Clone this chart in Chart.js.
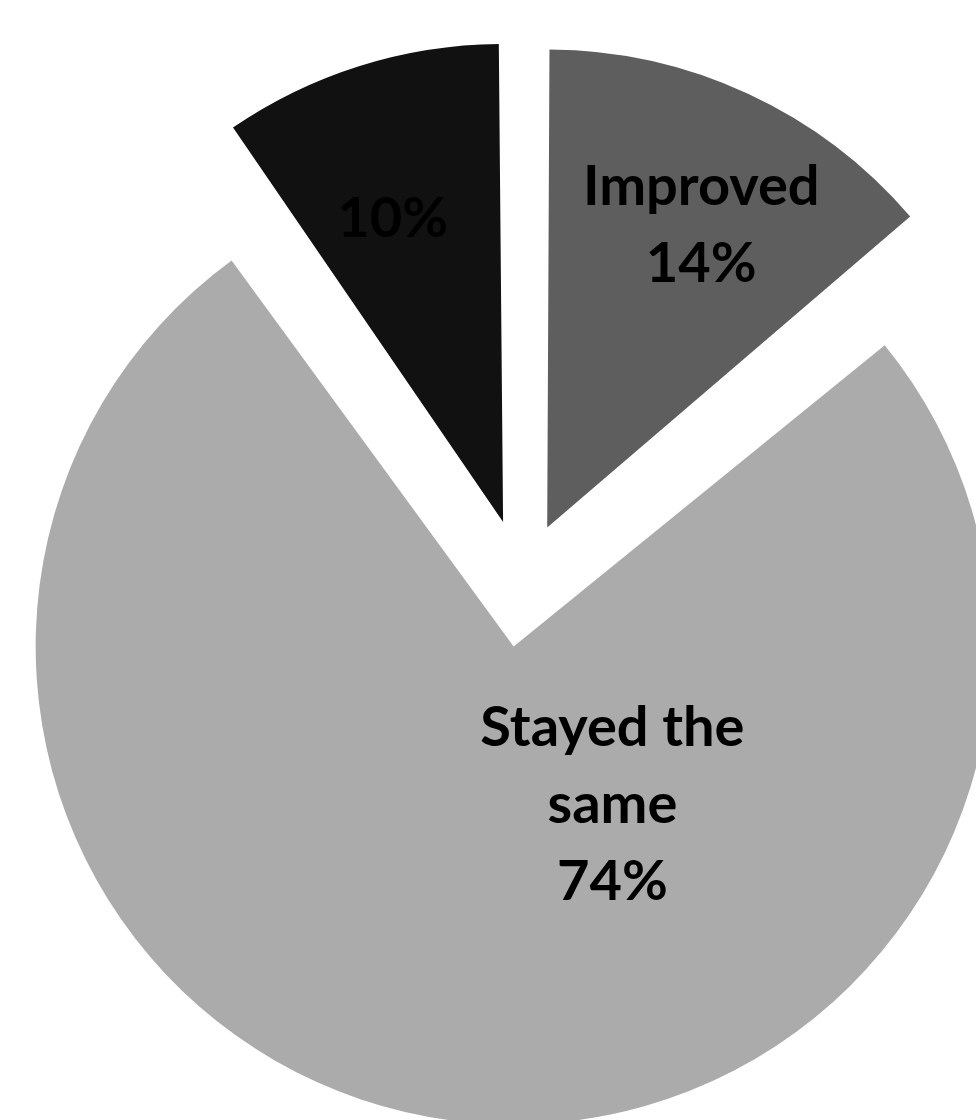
<!DOCTYPE html>
<html>
<head>
<meta charset="utf-8">
<title>Change in status</title>
<script src="https://cdn.jsdelivr.net/npm/chart.js@4.4.0/dist/chart.umd.min.js"></script>
<style>
  html, body { margin: 0; padding: 0; background: #fff; }
  #wrap { width: 976px; height: 1120px; position: relative; }
</style>
</head>
<body>
<div id="wrap"><canvas id="changeChart"></canvas></div>
<script>
// values
var categories = ['Improved', 'Stayed the same', 'Worsened'];
var shares = [13.8, 76.5, 9.7];
var shareLabels = ['14%', '74%', '10%'];
var labelLines = [['Improved'], ['Stayed the', 'same'], []];

// styling
var sliceColors = ['#5e5e5e', '#ababab', '#111111'];
var sliceOffsets = [240, 260, 252];   // chart.js moves a slice by offset / 4
var pieRadius = 478;
var labelAngle = [27, 148, -20];      // degrees clockwise from 12 o'clock
var labelDist = [0.71, 0.39, 0.675];  // fraction of the radius
var labelColor = ['#000', '#000', '#000'];
var lineHeight = 77;

// keep exploded slices at the same radius (chart.js grows them by the offset)
var sameRadius = {
  id: 'sameRadius',
  beforeDatasetsDraw: function(chart) {
    chart.getDatasetMeta(0).data.forEach(function(arc, i) {
      var off = ((arc.options && arc.options.offset) || sliceOffsets[i]) / 4;
      var fix = 1 - Math.sin(Math.min(Math.PI, arc.circumference));
      arc.outerRadius = pieRadius - off * fix;
    });
  }
};

var sliceLabels = {
  id: 'sliceLabels',
  afterDatasetsDraw: function(chart) {
    var ctx = chart.ctx;
    var meta = chart.getDatasetMeta(0);
    ctx.save();
    ctx.font = 'bold 56px Lato, "Open Sans", sans-serif';
    ctx.textAlign = 'center';
    ctx.textBaseline = 'middle';
    meta.data.forEach(function(arc, i) {
      var mid = (arc.startAngle + arc.endAngle) / 2;
      var shift = sliceOffsets[i] / 4;
      var cx = arc.x + Math.cos(mid) * shift;
      var cy = arc.y + Math.sin(mid) * shift;
      var a = labelAngle[i] * Math.PI / 180 - Math.PI / 2;
      var x = cx + Math.cos(a) * labelDist[i] * pieRadius;
      var y = cy + Math.sin(a) * labelDist[i] * pieRadius;
      var lines = labelLines[i].concat([shareLabels[i]]);
      var top = y - (lines.length - 1) * lineHeight / 2;
      ctx.fillStyle = labelColor[i];
      lines.forEach(function(t, k) {
        ctx.fillText(t, x, top + k * lineHeight);
      });
    });
    ctx.restore();
  }
};

var ctx = document.getElementById('changeChart');

var myPieChart = new Chart(ctx, {
  type: 'pie',
  data: {
    labels: categories,
    datasets: [{
      data: shares,
      backgroundColor: sliceColors,
      borderWidth: 0,
      offset: sliceOffsets,
      radius: pieRadius
    }]
  },
  options: {
    responsive: true,
    maintainAspectRatio: false,
    animation: false,
    events: [],
    layout: {
      padding: { left: 68, top: 44 }
    },
    plugins: {
      legend: { display: false },
      tooltip: { enabled: false }
    }
  },
  plugins: [sameRadius, sliceLabels]
});
</script>
</body>
</html>
